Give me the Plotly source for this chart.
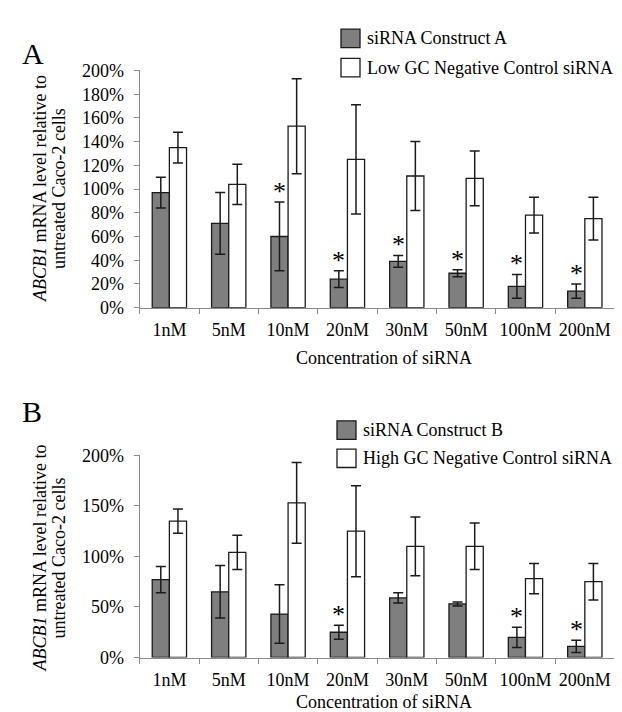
import plotly.graph_objects as go

# ---------------- data ----------------
categories = ["1nM", "5nM", "10nM", "20nM", "30nM", "50nM", "100nM", "200nM"]

a_construct = [97, 71, 60, 24, 39, 29, 18, 14]
a_construct_err = [13, 26, 29, 7, 5, 3, 10, 6]
a_control = [135, 104, 153, 125, 111, 109, 78, 75]
a_control_err = [13, 17, 40, 46, 29, 23, 15, 18]
a_significant = [False, False, True, True, True, True, True, True]

b_construct = [77, 65, 43, 25, 59, 53, 20, 11]
b_construct_err = [13, 26, 29, 7, 5, 2, 10, 6]
b_control = [135, 104, 153, 125, 110, 110, 78, 75]
b_control_err = [12, 17, 40, 45, 29, 23, 15, 18]
b_significant = [False, False, False, True, False, False, True, True]

a_ticks = [0, 20, 40, 60, 80, 100, 120, 140, 160, 180, 200]
b_ticks = [0, 50, 100, 150, 200]
a_ticktext = ["0%", "20%", "40%", "60%", "80%", "100%", "120%", "140%", "160%", "180%", "200%"]
b_ticktext = ["0%", "50%", "100%", "150%", "200%"]

legend_a = ["siRNA Construct A", "Low GC Negative Control siRNA"]
legend_b = ["siRNA Construct B", "High GC Negative Control siRNA"]

ytitle_lines = ["<i>ABCB1</i> mRNA level relative to", "untreated Caco-2 cells"]
xtitle = "Concentration of siRNA"

# ---------------- style ----------------
W, H = 622, 712
FONT = "Liberation Serif"
DARK = "#7f7f7f"
EDGE = "#1a1a1a"
AXIS = "#8a8a8a"


def px(x):
    return x / W


def py(y):
    return 1 - y / H


x_dom = [px(131.7), px(606.5)]
a_dom = [py(298), py(54)]
b_dom = [py(658), py(450)]

fig = go.Figure()


def add_panel(xa, ya, construct, c_err, control, k_err, names):
    fig.add_trace(go.Bar(
        x=categories, y=construct, name=names[0], xaxis=xa, yaxis=ya,
        marker=dict(color=DARK, line=dict(color=EDGE, width=1.3)),
        error_y=dict(type="data", array=c_err, color=EDGE, thickness=1.5, width=5),
        showlegend=False,
    ))
    fig.add_trace(go.Bar(
        x=categories, y=control, name=names[1], xaxis=xa, yaxis=ya,
        marker=dict(color="white", line=dict(color=EDGE, width=1.3)),
        error_y=dict(type="data", array=k_err, color=EDGE, thickness=1.5, width=5),
        showlegend=False,
    ))


add_panel("x", "y", a_construct, a_construct_err, a_control, a_control_err, legend_a)
add_panel("x2", "y2", b_construct, b_construct_err, b_control, b_control_err, legend_b)

xcommon = dict(
    type="category", range=[-0.5, 7.5], showline=True, linecolor=AXIS, linewidth=1,
    ticks="outside", tickson="boundaries", ticklen=5, tickcolor=AXIS, tickwidth=1,
    tickfont=dict(family=FONT, size=18, color="black"), showgrid=False,
    tickangle=0, ticklabelstandoff=6, fixedrange=True,
)
ycommon = dict(
    range=[0, 200], showline=True, linecolor=AXIS, linewidth=1, ticks="outside",
    ticklen=5, tickcolor=AXIS, tickwidth=1, showgrid=False, tickmode="array",
    zeroline=False, tickfont=dict(family=FONT, size=18, color="black"),
    ticklabelstandoff=6, fixedrange=True,
)

fig.update_layout(
    width=W, height=H, autosize=False,
    margin=dict(l=0, r=0, t=0, b=0),
    paper_bgcolor="white", plot_bgcolor="white",
    barmode="group", bargap=0.422, bargroupgap=0,
    font=dict(family=FONT, size=18, color="black"),
    xaxis=dict(domain=x_dom, anchor="y", **xcommon),
    yaxis=dict(domain=a_dom, anchor="x", tickvals=a_ticks, ticktext=a_ticktext, **ycommon),
    xaxis2=dict(domain=x_dom, anchor="y2", **xcommon),
    yaxis2=dict(domain=b_dom, anchor="x2", tickvals=b_ticks, ticktext=b_ticktext, **ycommon),
)

ann = []
shapes = []

# significance asterisks over the construct bars
for xa, ya, vals, errs, sig in [("x", "y", a_construct, a_construct_err, a_significant),
                                ("x2", "y2", b_construct, b_construct_err, b_significant)]:
    for cat, v, e, s in zip(categories, vals, errs, sig):
        if s:
            ann.append(dict(x=cat, y=v + e, xref=xa, yref=ya, text="*", showarrow=False,
                            xshift=-8.6, yshift=-6, yanchor="bottom", xanchor="center",
                            font=dict(family=FONT, size=26, color="black")))

# panel letters
ann.append(dict(x=px(12), y=py(37), xref="paper", yref="paper", text="A", showarrow=False,
                xanchor="left", yanchor="middle", font=dict(family=FONT, size=30)))
ann.append(dict(x=px(12), y=py(405), xref="paper", yref="paper", text="B", showarrow=False,
                xanchor="left", yanchor="middle", font=dict(family=FONT, size=30)))

# axis titles (two rotated lines each, tight line spacing)
for yc in (176, 556):
    for xc, line in zip((32, 51), ytitle_lines):
        ann.append(dict(x=px(xc), y=py(yc), xref="paper", yref="paper", text=line,
                        showarrow=False, textangle=-90, xanchor="center", yanchor="middle",
                        font=dict(family=FONT, size=18)))
for yc in (350, 704):
    ann.append(dict(x=px(376), y=py(yc), xref="paper", yref="paper", text=xtitle,
                    showarrow=False, xanchor="center", yanchor="middle",
                    font=dict(family=FONT, size=18)))

# manual legends
for (bx, ys, labels) in [(333, [21, 51], legend_a), (329, [424, 453], legend_b)]:
    for i, (yc, lab) in enumerate(zip(ys, labels)):
        shapes.append(dict(type="rect", xref="paper", yref="paper",
                           x0=px(bx), x1=px(bx + 19), y0=py(yc + 9.5), y1=py(yc - 9.5),
                           fillcolor=DARK if i == 0 else "white",
                           line=dict(color=EDGE, width=1.3)))
        ann.append(dict(x=px(bx + 24), y=py(yc), xref="paper", yref="paper", text=lab,
                        showarrow=False, xanchor="left", yanchor="middle",
                        font=dict(family=FONT, size=18)))

fig.update_layout(annotations=ann, shapes=shapes)

fig.write_html("out.html")
